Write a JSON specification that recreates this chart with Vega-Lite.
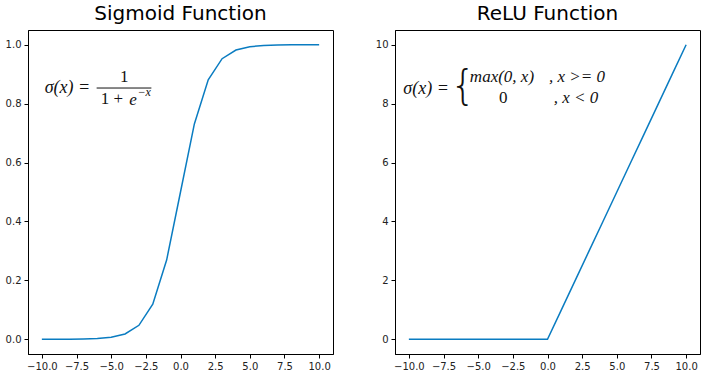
{
  "$schema": "https://vega.github.io/schema/vega-lite/v6.json",
  "padding": {"left": 0, "top": 3, "right": 0, "bottom": 0},
  "background": "white",
  "spacing": 30,
  "datasets": {
    "sigmoid": [
      {"x": -10, "y": 0.0000454},
      {"x": -9, "y": 0.0001234},
      {"x": -8, "y": 0.000335},
      {"x": -7, "y": 0.000911},
      {"x": -6, "y": 0.002473},
      {"x": -5, "y": 0.006693},
      {"x": -4, "y": 0.017986},
      {"x": -3, "y": 0.047426},
      {"x": -2, "y": 0.119203},
      {"x": -1, "y": 0.268941},
      {"x": 0, "y": 0.5},
      {"x": 1, "y": 0.731059},
      {"x": 2, "y": 0.880797},
      {"x": 3, "y": 0.952574},
      {"x": 4, "y": 0.982014},
      {"x": 5, "y": 0.993307},
      {"x": 6, "y": 0.997527},
      {"x": 7, "y": 0.999089},
      {"x": 8, "y": 0.999665},
      {"x": 9, "y": 0.999877},
      {"x": 10, "y": 0.999955}
    ],
    "relu": [
      {"x": -10, "y": 0}, {"x": -9, "y": 0}, {"x": -8, "y": 0}, {"x": -7, "y": 0},
      {"x": -6, "y": 0}, {"x": -5, "y": 0}, {"x": -4, "y": 0}, {"x": -3, "y": 0},
      {"x": -2, "y": 0}, {"x": -1, "y": 0}, {"x": 0, "y": 0}, {"x": 1, "y": 1},
      {"x": 2, "y": 2}, {"x": 3, "y": 3}, {"x": 4, "y": 4}, {"x": 5, "y": 5},
      {"x": 6, "y": 6}, {"x": 7, "y": 7}, {"x": 8, "y": 8}, {"x": 9, "y": 9},
      {"x": 10, "y": 10}
    ],
    "one": [{"k": 1}]
  },
  "hconcat": [
    {
      "title": {"text": "Sigmoid Function"},
      "width": 305,
      "height": 324,
      "layer": [
        {
          "data": {"name": "sigmoid"},
          "mark": {"type": "line", "color": "#0a7cc1", "strokeWidth": 1.5},
          "encoding": {
            "x": {"field": "x", "type": "quantitative",
                  "scale": {"domain": [-11, 11], "nice": false, "zero": false},
                  "axis": {"values": [-10, -7.5, -5, -2.5, 0, 2.5, 5, 7.5, 10], "format": ".1f", "title": null, "labelOverlap": false}},
            "y": {"field": "y", "type": "quantitative",
                  "scale": {"domain": [-0.05, 1.05], "nice": false, "zero": false},
                  "axis": {"values": [0, 0.2, 0.4, 0.6, 0.8, 1.0], "format": ".1f", "title": null, "minExtent": 27, "maxExtent": 27, "labelOverlap": false}}
          }
        },
        {
          "data": {"name": "one"},
          "mark": {"type": "text", "align": "left", "baseline": "middle", "font": "Liberation Serif", "fontStyle": "italic", "fontSize": 18, "color": "#111111"},
          "encoding": {
            "x": {"datum": -9.8, "axis": {"values": [-10, -7.5, -5, -2.5, 0, 2.5, 5, 7.5, 10], "format": ".1f", "title": null, "labelOverlap": false}},
            "y": {"datum": 0.852, "axis": {"values": [0, 0.2, 0.4, 0.6, 0.8, 1.0], "format": ".1f", "title": null, "minExtent": 27, "maxExtent": 27, "labelOverlap": false}},
            "text": {"value": "σ(x) ="}}
        },
        {
          "data": {"name": "one"},
          "mark": {"type": "text", "align": "center", "baseline": "middle", "font": "Liberation Serif", "fontSize": 17, "color": "#111111"},
          "encoding": {
            "x": {"datum": -4.05, "axis": {"values": [-10, -7.5, -5, -2.5, 0, 2.5, 5, 7.5, 10], "format": ".1f", "title": null, "labelOverlap": false}},
            "y": {"datum": 0.889, "axis": {"values": [0, 0.2, 0.4, 0.6, 0.8, 1.0], "format": ".1f", "title": null, "minExtent": 27, "maxExtent": 27, "labelOverlap": false}},
            "text": {"value": "1"}}
        },
        {
          "data": {"name": "one"},
          "mark": {"type": "rule", "color": "#111111", "strokeWidth": 1},
          "encoding": {
            "x": {"datum": -6.05, "axis": {"values": [-10, -7.5, -5, -2.5, 0, 2.5, 5, 7.5, 10], "format": ".1f", "title": null, "labelOverlap": false}},
            "x2": {"datum": -2.1},
            "y": {"datum": 0.853, "axis": {"values": [0, 0.2, 0.4, 0.6, 0.8, 1.0], "format": ".1f", "title": null, "minExtent": 27, "maxExtent": 27, "labelOverlap": false}}}
        },
        {
          "data": {"name": "one"},
          "mark": {"type": "text", "align": "left", "baseline": "middle", "font": "Liberation Serif", "fontSize": 17, "color": "#111111"},
          "encoding": {
            "x": {"datum": -5.75, "axis": {"values": [-10, -7.5, -5, -2.5, 0, 2.5, 5, 7.5, 10], "format": ".1f", "title": null, "labelOverlap": false}},
            "y": {"datum": 0.816, "axis": {"values": [0, 0.2, 0.4, 0.6, 0.8, 1.0], "format": ".1f", "title": null, "minExtent": 27, "maxExtent": 27, "labelOverlap": false}},
            "text": {"value": "1 +"}}
        },
        {
          "data": {"name": "one"},
          "mark": {"type": "text", "align": "left", "baseline": "middle", "font": "Liberation Serif", "fontStyle": "italic", "fontSize": 17, "color": "#111111"},
          "encoding": {
            "x": {"datum": -3.7, "axis": {"values": [-10, -7.5, -5, -2.5, 0, 2.5, 5, 7.5, 10], "format": ".1f", "title": null, "labelOverlap": false}},
            "y": {"datum": 0.814, "axis": {"values": [0, 0.2, 0.4, 0.6, 0.8, 1.0], "format": ".1f", "title": null, "minExtent": 27, "maxExtent": 27, "labelOverlap": false}},
            "text": {"value": "e"}}
        },
        {
          "data": {"name": "one"},
          "mark": {"type": "text", "align": "left", "baseline": "middle", "font": "Liberation Serif", "fontStyle": "italic", "fontSize": 12, "color": "#111111"},
          "encoding": {
            "x": {"datum": -3.1, "axis": {"values": [-10, -7.5, -5, -2.5, 0, 2.5, 5, 7.5, 10], "format": ".1f", "title": null, "labelOverlap": false}},
            "y": {"datum": 0.838, "axis": {"values": [0, 0.2, 0.4, 0.6, 0.8, 1.0], "format": ".1f", "title": null, "minExtent": 27, "maxExtent": 27, "labelOverlap": false}},
            "text": {"value": "−x"}}
        }
      ]
    },
    {
      "title": {"text": "ReLU Function"},
      "width": 305,
      "height": 324,
      "layer": [
        {
          "data": {"name": "relu"},
          "mark": {"type": "line", "color": "#0a7cc1", "strokeWidth": 1.5},
          "encoding": {
            "x": {"field": "x", "type": "quantitative",
                  "scale": {"domain": [-11, 11], "nice": false, "zero": false},
                  "axis": {"values": [-10, -7.5, -5, -2.5, 0, 2.5, 5, 7.5, 10], "format": ".1f", "title": null, "labelOverlap": false}},
            "y": {"field": "y", "type": "quantitative",
                  "scale": {"domain": [-0.5, 10.5], "nice": false, "zero": false},
                  "axis": {"values": [0, 2, 4, 6, 8, 10], "format": "d", "title": null, "minExtent": 30, "maxExtent": 30, "labelOverlap": false}}
          }
        },
        {
          "data": {"name": "one"},
          "mark": {"type": "text", "align": "left", "baseline": "middle", "font": "Liberation Serif", "fontStyle": "italic", "fontSize": 18, "color": "#111111"},
          "encoding": {
            "x": {"datum": -10.4, "axis": {"values": [-10, -7.5, -5, -2.5, 0, 2.5, 5, 7.5, 10], "format": ".1f", "title": null, "labelOverlap": false}},
            "y": {"datum": 8.5, "axis": {"values": [0, 2, 4, 6, 8, 10], "format": "d", "title": null, "minExtent": 30, "maxExtent": 30, "labelOverlap": false}},
            "text": {"value": "σ(x) ="}}
        },
        {
          "data": {"name": "one"},
          "mark": {"type": "text", "align": "center", "baseline": "middle", "font": "DejaVu Sans", "fontSize": 40, "fontWeight": 200, "color": "#111111"},
          "encoding": {
            "x": {"datum": -6.1, "axis": {"values": [-10, -7.5, -5, -2.5, 0, 2.5, 5, 7.5, 10], "format": ".1f", "title": null, "labelOverlap": false}},
            "y": {"datum": 8.55, "axis": {"values": [0, 2, 4, 6, 8, 10], "format": "d", "title": null, "minExtent": 30, "maxExtent": 30, "labelOverlap": false}},
            "text": {"value": "{"}}
        },
        {
          "data": {"name": "one"},
          "mark": {"type": "text", "align": "left", "baseline": "middle", "font": "Liberation Serif", "fontStyle": "italic", "fontSize": 17, "color": "#111111"},
          "encoding": {
            "x": {"datum": -5.6, "axis": {"values": [-10, -7.5, -5, -2.5, 0, 2.5, 5, 7.5, 10], "format": ".1f", "title": null, "labelOverlap": false}},
            "y": {"datum": 8.89, "axis": {"values": [0, 2, 4, 6, 8, 10], "format": "d", "title": null, "minExtent": 30, "maxExtent": 30, "labelOverlap": false}},
            "text": {"value": "max(0, x)"}}
        },
        {
          "data": {"name": "one"},
          "mark": {"type": "text", "align": "center", "baseline": "middle", "font": "Liberation Serif", "fontSize": 17, "color": "#111111"},
          "encoding": {
            "x": {"datum": -3.2, "axis": {"values": [-10, -7.5, -5, -2.5, 0, 2.5, 5, 7.5, 10], "format": ".1f", "title": null, "labelOverlap": false}},
            "y": {"datum": 8.18, "axis": {"values": [0, 2, 4, 6, 8, 10], "format": "d", "title": null, "minExtent": 30, "maxExtent": 30, "labelOverlap": false}},
            "text": {"value": "0"}}
        },
        {
          "data": {"name": "one"},
          "mark": {"type": "text", "align": "left", "baseline": "middle", "font": "Liberation Serif", "fontStyle": "italic", "fontSize": 17, "color": "#111111"},
          "encoding": {
            "x": {"datum": 0.1, "axis": {"values": [-10, -7.5, -5, -2.5, 0, 2.5, 5, 7.5, 10], "format": ".1f", "title": null, "labelOverlap": false}},
            "y": {"datum": 8.89, "axis": {"values": [0, 2, 4, 6, 8, 10], "format": "d", "title": null, "minExtent": 30, "maxExtent": 30, "labelOverlap": false}},
            "text": {"value": ", x >= 0"}}
        },
        {
          "data": {"name": "one"},
          "mark": {"type": "text", "align": "left", "baseline": "middle", "font": "Liberation Serif", "fontStyle": "italic", "fontSize": 17, "color": "#111111"},
          "encoding": {
            "x": {"datum": 0.45, "axis": {"values": [-10, -7.5, -5, -2.5, 0, 2.5, 5, 7.5, 10], "format": ".1f", "title": null, "labelOverlap": false}},
            "y": {"datum": 8.18, "axis": {"values": [0, 2, 4, 6, 8, 10], "format": "d", "title": null, "minExtent": 30, "maxExtent": 30, "labelOverlap": false}},
            "text": {"value": ", x < 0"}}
        }
      ]
    }
  ],
  "config": {
    "view": {"stroke": "black", "strokeWidth": 1},
    "font": "DejaVu Sans",
    "title": {"fontSize": 20, "font": "DejaVu Sans", "fontWeight": "normal", "color": "black", "anchor": "middle", "offset": 6},
    "axis": {
      "grid": false,
      "domainColor": "black",
      "tickColor": "black",
      "tickSize": 4,
      "labelPadding": 3,
      "labelFontSize": 10,
      "labelFont": "DejaVu Sans",
      "labelColor": "#222222",
      "labelFlush": false,
      "labelOverlap": false
    }
  }
}
